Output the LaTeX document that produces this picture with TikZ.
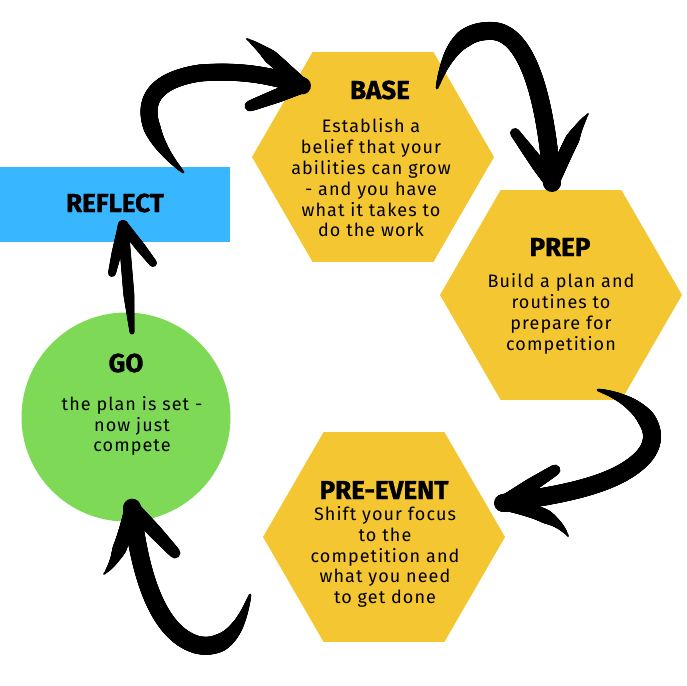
\documentclass[tikz,border=0pt]{standalone}
\usepackage{fontspec}
\setmainfont{Fira Sans}
\newfontfamily\bodyfont[LetterSpace=6]{Fira Sans}
\newfontfamily\titlefont[BoldFeatures={FakeBold=1.2}]{Fira Sans}
\usetikzlibrary{shapes.geometric,decorations.markings}
\definecolor{hexyellow}{HTML}{F4C631}
\definecolor{refblue}{HTML}{38B6FF}
\definecolor{gogreen}{HTML}{7ED957}
\begin{document}
\begin{tikzpicture}[x=1pt,y=-1pt,
  hexbox/.style={regular polygon, regular polygon sides=6, minimum size=242pt, inner sep=0pt, outer sep=0pt, fill=hexyellow},
  titletext/.style={font=\titlefont\fontsize{26}{28}\selectfont\bfseries, text=black, inner sep=0pt},
  bodytext/.style={font=\bodyfont\fontsize{18}{20.8}\selectfont, align=center, inner sep=0pt, text=black},
  taper/.style n args={3}{decoration={markings, mark=between positions 0 and 1 step 0.7pt with {\pgfmathsetmacro\rr{min(#3,#1+#2*\pgfkeysvalueof{/pgf/decoration/mark info/distance from start})}\fill[black] (0,0) circle (\rr pt);}}, decorate},
]
\useasboundingbox (0,0) rectangle (687,685);

% shapes
\node[hexbox] (base) at (373,157) {};
\node[hexbox] (prep) at (561,295) {};
\node[hexbox] (pre) at (384,537) {};
\node[fill=refblue, minimum width=230pt, minimum height=75pt, inner sep=0pt, outer sep=0pt, anchor=north west] (reflect) at (0,167) {};
\node[circle, fill=gogreen, minimum size=209pt, inner sep=0pt] (go) at (126,417) {};

% texts
\node[titletext] (baseT) at (380,90) {BASE};
\node[bodytext] (baseB) at (371,178) {Establish a\\belief that your\\abilities can grow\\- and you have\\what it takes to\\do the work};
\node[titletext] (prepT) at (560,247) {PREP};
\node[bodytext] (prepB) at (561,314) {Build a plan and\\routines to\\prepare for\\competition};
\node[titletext] (preT) at (384,490) {PRE-EVENT};
\node[bodytext] (preB) at (385,557) {Shift your focus\\to the\\competition and\\what you need\\to get done};
\node[titletext] (reflectT) at (115,203) {REFLECT};
\node[titletext] (goT) at (126,363) {GO};
\node[bodytext] (goB) at (132,426) {the plan is set -\\now just\\compete};

% arrow coordinates
\coordinate (a1t) at (183,172);
\coordinate (a1h) at (303,86);
\coordinate (a1u) at (247,39);
\coordinate (a1l) at (250,106);
\coordinate (a2t) at (437,88);
\coordinate (a2h) at (552,183);
\coordinate (a2l) at (515,133);
\coordinate (a2r) at (588,114);
\coordinate (a3t) at (598,390);
\coordinate (a3h) at (503,503);
\coordinate (a3u) at (555,470);
\coordinate (a3l) at (568,536);
\coordinate (a4t) at (250,595);
\coordinate (a4h) at (132,507);
\coordinate (a4l) at (104,574);
\coordinate (a4r) at (175,553);
\coordinate (a5t) at (132,332);
\coordinate (a5h) at (123,225);
\coordinate (a5l) at (112,273);
\coordinate (a5r) at (153,263);

% shafts
\path[taper={1.5}{0.13}{8.5}] (a1t) .. controls (150,140) and (120,85) .. (200,73) .. controls (240,70) and (270,75) .. (a1h);
\path[taper={1.5}{0.13}{9}] (a2t) .. controls (450,40) and (470,30) .. (493,31) .. controls (525,33) and (545,90) .. (a2h);
\path[taper={1.5}{0.13}{9}] (a3t) .. controls (640,400) and (665,430) .. (645,455) .. controls (620,485) and (560,495) .. (a3h);
\path[taper={1.5}{0.13}{9}] (a4t) .. controls (240,630) and (225,650) .. (198,645) .. controls (160,635) and (140,580) .. (a4h);
\path[taper={2.5}{0.08}{5.5}] (a5t) -- (a5h);

% heads (drawn from barb end to tip)
\path[taper={1}{0.2}{7}] (a1u) .. controls (265,50) and (285,70) .. (a1h);
\path[taper={5.5}{0.05}{7}] (a1l) -- (a1h);
\path[taper={5}{0.05}{7}] (a2l) -- (a2h);
\path[taper={1}{0.2}{7}] (a2r) .. controls (575,130) and (565,155) .. (a2h);
\path[taper={5.5}{0.05}{7}] (a3u) -- (a3h);
\path[taper={1}{0.2}{7}] (a3l) .. controls (555,515) and (530,510) .. (a3h);
\path[taper={1}{0.2}{7}] (a4l) .. controls (118,560) and (125,535) .. (a4h);
\path[taper={5.5}{0.05}{7}] (a4r) -- (a4h);
\path[taper={4}{0.05}{5}] (a5l) -- (a5h);
\path[taper={4}{0.05}{5}] (a5r) -- (a5h);
\end{tikzpicture}
\end{document}
